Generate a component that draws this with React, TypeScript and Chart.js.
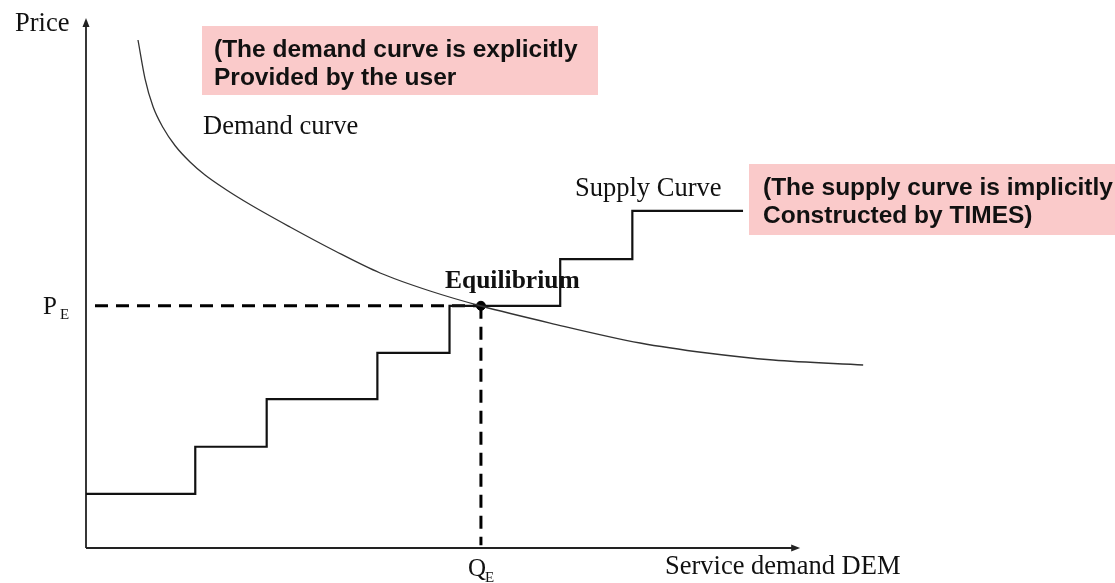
import React, { useEffect, useRef } from "react";
import { Chart, registerables } from "chart.js";

Chart.register(...registerables);

// Demand curve (quantity, price)
const demandQ = [7.28, 8.26, 9.38, 10.78, 12.46, 14.57, 16.67, 19.47, 22.97, 28.57, 34.87, 41.18, 48.18, 55.32, 64.99, 77.59, 86.97, 96.22, 108.82];
const demandP = [95.85, 88.58, 83.3, 79.34, 75.94, 72.83, 70.38, 67.74, 64.81, 60.57, 56.04, 51.89, 48.49, 45.66, 42.45, 38.68, 36.79, 35.47, 34.53];

// Step supply curve: start of each step and its price level
const supplyQ = [0, 15.3, 25.3, 40.8, 50.9, 66.4, 76.5, 92.0];
const supplyP = [10.2, 19.1, 28.1, 36.8, 45.7, 54.5, 63.6, 63.6];

// Equilibrium
const equilibriumQ = 55.3;
const equilibriumP = 45.7;

// Axis extents
const axisMaxQ = 100;
const axisMaxP = 100;

// Texts
const priceLabel = "Price";
const quantityLabel = "Service demand DEM";
const demandLabel = "Demand curve";
const supplyLabel = "Supply Curve";
const equilibriumLabel = "Equilibrium";
const demandNote = ["(The demand curve is explicitly", "Provided by the user"];
const supplyNote = ["(The supply curve is implicitly", "Constructed by TIMES)"];

const SERIF = '"Liberation Serif", "DejaVu Serif", serif';
const SANS = '"Liberation Sans", Arial, sans-serif';

const decorPlugin = {
  id: "decor",
  beforeDatasetsDraw(chart: any) {
    const { ctx, scales } = chart;
    const xs = scales.x;
    const ys = scales.y;
    const x0 = xs.getPixelForValue(0);
    const y0 = ys.getPixelForValue(0);
    const xEnd = xs.getPixelForValue(axisMaxQ);
    const yEnd = ys.getPixelForValue(axisMaxP);
    ctx.save();
    ctx.strokeStyle = "#222";
    ctx.fillStyle = "#222";
    ctx.lineWidth = 1.8;
    ctx.beginPath();
    ctx.moveTo(x0, y0);
    ctx.lineTo(x0, yEnd + 6);
    ctx.moveTo(x0, y0);
    ctx.lineTo(xEnd - 6, y0);
    ctx.stroke();
    // arrow heads
    ctx.beginPath();
    ctx.moveTo(x0, yEnd);
    ctx.lineTo(x0 - 3.5, yEnd + 9);
    ctx.lineTo(x0 + 3.5, yEnd + 9);
    ctx.closePath();
    ctx.fill();
    ctx.beginPath();
    ctx.moveTo(xEnd, y0);
    ctx.lineTo(xEnd - 9, y0 - 3.5);
    ctx.lineTo(xEnd - 9, y0 + 3.5);
    ctx.closePath();
    ctx.fill();

    // pink note boxes
    ctx.fillStyle = "rgb(250, 202, 202)";
    ctx.fillRect(202, 26, 396, 69);
    ctx.fillRect(749, 164, 366, 71);
    ctx.restore();
  },
  afterDraw(chart: any) {
    const { ctx, scales } = chart;
    const xs = scales.x;
    const ys = scales.y;
    ctx.save();
    ctx.fillStyle = "#111";
    ctx.textBaseline = "alphabetic";
    ctx.textAlign = "left";

    ctx.font = `26.5px ${SERIF}`;
    ctx.fillText(priceLabel, 15, 31);
    ctx.fillText(demandLabel, 203, 134);
    ctx.fillText(supplyLabel, 575, 196);
    ctx.fillText(quantityLabel, 665, 574);

    ctx.font = `bold 25.5px ${SERIF}`;
    ctx.fillText(equilibriumLabel, 445, 288);

    // P_E and Q_E anchored to equilibrium
    const pY = ys.getPixelForValue(equilibriumP);
    const qX = xs.getPixelForValue(equilibriumQ);
    ctx.font = `25px ${SERIF}`;
    ctx.fillText("P", 43, pY + 8);
    ctx.fillText("Q", qX - 13, 576);
    ctx.font = `15px ${SERIF}`;
    ctx.fillText("E", 60, pY + 13);
    ctx.fillText("E", qX + 4, 582);

    // notes
    ctx.font = `bold 24.5px ${SANS}`;
    ctx.fillText(demandNote[0], 214, 57);
    ctx.fillText(demandNote[1], 214, 85);
    ctx.fillText(supplyNote[0], 763, 195);
    ctx.fillText(supplyNote[1], 763, 223);
    ctx.restore();
  },
};

export default function App() {
  const canvasRef = useRef<HTMLCanvasElement | null>(null);

  useEffect(() => {
    if (!canvasRef.current) return;
    const chart = new Chart(canvasRef.current, {
      type: "line",
      data: {
        datasets: [
          {
            label: "Demand",
            data: demandQ.map((q, i) => ({ x: q, y: demandP[i] })),
            borderColor: "#333",
            borderWidth: 1.3,
            pointRadius: 0,
            cubicInterpolationMode: "monotone",
            fill: false,
          },
          {
            label: "Supply",
            data: supplyQ.map((q, i) => ({ x: q, y: supplyP[i] })),
            borderColor: "#111",
            borderWidth: 2.2,
            pointRadius: 0,
            stepped: "before",
            fill: false,
          },
          {
            label: "PE",
            data: [
              { x: 1.26, y: equilibriumP },
              { x: equilibriumQ, y: equilibriumP },
            ],
            borderColor: "#000",
            borderWidth: 3,
            borderDash: [13, 8],
            pointRadius: 0,
            fill: false,
          },
          {
            label: "QE",
            data: [
              { x: equilibriumQ, y: equilibriumP },
              { x: equilibriumQ, y: 0.5 },
            ],
            borderColor: "#000",
            borderWidth: 3,
            borderDash: [13, 8],
            pointRadius: 0,
            fill: false,
          },
          {
            label: "Equilibrium",
            data: [{ x: equilibriumQ, y: equilibriumP }],
            borderColor: "#000",
            backgroundColor: "#000",
            pointRadius: 4.5,
            showLine: false,
          },
        ],
      },
      options: {
        animation: false,
        responsive: false,
        layout: { padding: { left: 86, right: 172, top: 18, bottom: 35 } },
        plugins: { legend: { display: false }, tooltip: { enabled: false } },
        scales: {
          x: { type: "linear", min: 0, max: 120, display: false },
          y: { type: "linear", min: 0, max: 100, display: false },
        },
      },
      plugins: [decorPlugin],
    } as any);
    return () => chart.destroy();
  }, []);

  return (
    <div style={{ position: "fixed", left: 0, top: 0, width: 1115, height: 583, background: "#fff" }}>
      <canvas ref={canvasRef} width={1115} height={583} />
    </div>
  );
}
